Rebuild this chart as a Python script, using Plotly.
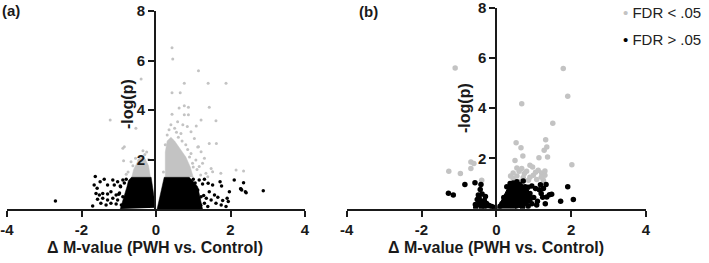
import plotly.graph_objects as go

# ---------------- data ----------------
# Panel (a): significant (FDR < .05) scattered points
a_sig_x = [0.43, 0.45, 1.14, 0.76, 1.40, 1.88, -0.40, 0.43, 0.65, 0.76, 0.87, 0.62, 1.43,
           0.43, 0.76, 0.87, -1.23, 1.61, -0.54, 1.43, -0.85, 1.14,
           1.21, 0.58, 0.72, 0.50, 0.84, 1.08, 0.30, 0.67, 0.94, 1.03, 1.12, 1.62, 1.21,
           1.30, 1.25, 1.16, 1.52, 1.74, 2.15, 2.35, 1.39, 0.94, 1.07, 1.48, 1.34, 1.20,
           -0.89, -0.40, -0.46, -0.67, -0.87, -0.75, -0.80,
           0.35, 0.55, 0.80, 0.90, 1.00, 0.85, 0.25, 0.40, 0.60, 0.20, 0.70, 0.98, 1.10,
           -0.25, -0.35, -0.55, -0.62, -0.20, -0.30]
a_sig_y = [6.52, 6.06, 5.59, 5.08, 5.08, 5.08, 5.25, 4.70, 4.70, 4.17, 4.11, 4.08, 4.11,
           3.83, 3.81, 3.81, 3.60, 3.57, 3.26, 2.65, 2.52, 2.52,
           3.60, 3.53, 3.40, 3.26, 3.33, 3.35, 2.99, 3.05, 3.12, 2.85, 2.51, 2.65, 2.31,
           2.05, 1.85, 1.72, 1.51, 1.44, 1.58, 1.54, 1.30, 2.24, 1.98, 1.64, 1.44, 1.37,
           2.45, 2.11, 1.97, 1.91, 1.95, 1.50, 1.40,
           3.20, 3.10, 2.60, 2.10, 1.70, 2.40, 2.60, 3.40, 2.90, 1.50, 2.75, 1.85, 1.60,
           2.30, 2.35, 2.05, 1.75, 2.00, 2.20]

# Panel (a): non-significant (FDR > .05) scattered points
a_ns_x = [-2.70, -1.63, -1.70, -1.66, -1.58, -1.50, -1.39, -1.30, -1.16, -1.12, -1.03, -0.96,
          -0.89, -1.61, -1.52, -1.43, -1.30, -1.21, -1.07, -0.98, -1.57, -1.43, -1.30,
          -1.16, -1.03, -0.89, -1.48, -1.34, -1.21, -1.07, -0.93, -0.81,
          1.16, 1.30, 1.40, 1.52, 1.72, 1.76, 2.10, 2.35, 1.97, 2.28, 2.30, 2.42, 2.88,
          1.43, 1.57, 1.66, 1.79, 1.91, 1.94, 1.48, 1.61, 1.75, 1.88, 1.30, 1.39, 1.21,
          1.35, 1.12, 1.25, 2.27, 2.40,
          -1.00, -0.95, -0.85, -0.80, 1.00, 1.05, 1.10, 1.15, 1.20, 1.28]
a_ns_y = [0.32, 1.31, 0.12, 0.97, 0.84, 1.10, 1.20, 0.97, 1.17, 0.97, 1.10, 0.93,
          1.17, 0.63, 0.57, 0.63, 0.61, 0.70, 0.57, 0.65, 0.39, 0.43, 0.36,
          0.43, 0.36, 0.50, 0.23, 0.16, 0.23, 0.20, 0.16, 0.30,
          1.17, 1.20, 1.04, 0.97, 1.10, 0.93, 1.17, 1.06, 0.70, 0.81, 0.77, 0.66, 0.74,
          0.70, 0.57, 0.47, 0.34, 0.43, 0.30, 0.36, 0.23, 0.16, 0.10, 0.23, 0.10, 0.50,
          0.43, 0.77, 1.01, 0.82, 0.70,
          0.60, 0.90, 1.05, 1.20, 1.20, 1.05, 0.70, 0.40, 0.15, 0.55]

# Panel (a): outlines of the densely packed clouds (None separates the two sides)
a_sig_cloud_x = [0.25, 0.25, 0.30, 0.40, 0.50, 0.65, 0.80, 0.92, 1.00, None,
                 -0.15, -0.20, -0.30, -0.42, -0.50, -0.60, -0.65]
a_sig_cloud_y = [1.28, 2.30, 2.75, 2.90, 2.75, 2.45, 2.10, 1.70, 1.28, None,
                 1.28, 1.75, 2.05, 2.15, 1.90, 1.60, 1.28]
a_ns_cloud_x = [0.03, 0.22, 0.89, 0.98, 1.12, 1.21, 1.25, None,
                -0.01, -0.13, -0.66, -0.74, -0.78, -0.90, -0.96]
a_ns_cloud_y = [0.00, 1.28, 1.28, 1.15, 0.90, 0.30, 0.00, None,
                0.05, 1.28, 1.28, 1.15, 0.90, 0.36, 0.00]

# Panel (b): significant points
b_sig_x = [-1.10, 1.79, 1.91, 0.68, 1.51, 1.32, 1.35, 1.28, 0.53, 0.66, 0.71, 1.14, 1.37,
           2.02, -1.27, -0.96, -0.68, -0.60, -0.68, -0.39,
           0.50, 0.55, 0.61, 0.45, 0.90, 0.97, 0.81, 1.12, 1.21, 1.30, 0.99, 0.45, 0.72,
           1.08, 1.26, 0.86, 0.62, 0.38, 0.75, 1.05, 1.20, 0.55, 0.90, 1.30, 0.68]
b_sig_y = [5.59, 5.57, 4.47, 4.17, 3.40, 2.74, 2.45, 2.32, 2.62, 2.42, 2.10, 2.03, 2.06,
           1.75, 1.49, 1.40, 1.86, 1.80, 1.60, 1.13,
           1.92, 1.62, 1.49, 1.42, 1.73, 1.66, 1.49, 1.53, 1.42, 1.33, 1.33, 1.20, 1.24,
           1.16, 1.13, 1.13, 1.08, 1.30, 1.40, 1.45, 1.25, 1.30, 1.25, 1.50, 1.60]

# Panel (b): non-significant points
b_ns_x = [-0.84, -0.57, -0.41, -1.28, -1.15, -0.43, -0.48, -0.51, -0.44, -0.35, -0.56,
          -0.46, -0.32, -0.26, -0.19, -0.12, -0.05, -0.29, -0.38, -0.40, -0.55, -0.30,
          1.91, 1.48, 1.72, 2.06, 1.33, 1.26, 1.24, 1.31, 1.08, 1.35, 1.42,
          0.28, 0.37, 0.55, 0.72, 0.77, 0.85, 0.95, 1.05, 1.15, 1.20, 0.90, 1.00, 1.10,
          0.95, 0.85, 0.70, 0.15, 0.20, 0.10, 0.60, 0.45, 1.18, 0.90]
b_ns_y = [0.96, 1.03, 0.96, 0.61, 0.54, 0.76, 0.54, 0.37, 0.28, 0.21, 0.17,
          0.45, 0.33, 0.21, 0.13, 0.09, 0.05, 0.49, 0.58, 0.05, 0.05, 0.10,
          0.87, 0.57, 0.30, 0.37, 0.96, 0.80, 0.46, 0.20, 0.15, 0.47, 0.55,
          0.87, 1.00, 1.07, 1.10, 0.87, 0.85, 0.90, 0.80, 0.75, 0.60, 0.60, 0.45, 0.30,
          0.20, 0.10, 0.05, 0.20, 0.45, 0.10, 0.95, 1.02, 0.95, 0.35]

b_ns_cloud_x = [0.03, 0.15, 0.25, 0.35, 0.50, 0.65, 0.75, 0.85, 0.95, 0.90, 0.75, 0.50, None,
                -0.02, -0.15, -0.30, -0.42, -0.52, -0.50, -0.35]
b_ns_cloud_y = [0.00, 0.35, 0.70, 0.95, 1.02, 1.05, 0.90, 0.75, 0.50, 0.25, 0.10, 0.00, None,
                0.00, 0.15, 0.30, 0.42, 0.30, 0.10, 0.02]

x_ticks = [-4, -2, 0, 2, 4]
y_ticks = [2, 4, 6, 8]
legend_labels = ["FDR &lt; .05", "FDR &gt; .05"]

# ---------------- styling ----------------
GRAY = "#c3c3c3"
BLACK = "#000000"
FONT = "Liberation Sans, Arial, sans-serif"
W, H = 709, 263


def px(x):
    return x / W


def py(y):
    return 1 - y / H


fig = go.Figure()

# panel (a)
fig.add_trace(go.Scatter(x=a_sig_cloud_x, y=a_sig_cloud_y, mode="lines", fill="toself",
                         fillcolor=GRAY, line=dict(width=0.5, color=GRAY),
                         xaxis="x", yaxis="y", hoverinfo="skip", showlegend=False))
fig.add_trace(go.Scatter(x=a_sig_x, y=a_sig_y, mode="markers",
                         marker=dict(size=3, color=GRAY), xaxis="x", yaxis="y",
                         showlegend=False))
fig.add_trace(go.Scatter(x=a_ns_cloud_x, y=a_ns_cloud_y, mode="lines", fill="toself",
                         fillcolor=BLACK, line=dict(width=0.5, color=BLACK),
                         xaxis="x", yaxis="y", hoverinfo="skip", showlegend=False))
fig.add_trace(go.Scatter(x=a_ns_x, y=a_ns_y, mode="markers",
                         marker=dict(size=3.5, color=BLACK), xaxis="x", yaxis="y",
                         showlegend=False))

# panel (b)
fig.add_trace(go.Scatter(x=b_sig_x, y=b_sig_y, mode="markers",
                         marker=dict(size=5.5, color=GRAY), xaxis="x2", yaxis="y2",
                         showlegend=False))
fig.add_trace(go.Scatter(x=b_ns_cloud_x, y=b_ns_cloud_y, mode="lines", fill="toself",
                         fillcolor=BLACK, line=dict(width=1, color=BLACK),
                         xaxis="x2", yaxis="y2", hoverinfo="skip", showlegend=False))
fig.add_trace(go.Scatter(x=b_ns_x, y=b_ns_y, mode="markers",
                         marker=dict(size=5.5, color=BLACK), xaxis="x2", yaxis="y2",
                         showlegend=False))

tickfont = dict(family=FONT, size=15, color="#1a1a1a")
axis_common = dict(showgrid=False, zeroline=False, showline=True, linecolor="#1a1a1a",
                   linewidth=2, ticks="outside", ticklen=6, tickwidth=2,
                   tickcolor="#1a1a1a", tickfont=tickfont, fixedrange=True,
                   automargin=False, ticklabeloverflow="allow")
x_ticktext = ["<b>%d</b>" % v for v in x_ticks]
y_ticktext = ["<b>%d</b>" % v for v in y_ticks]

# panel geometry in pixels of the 709x263 canvas
fig.update_layout(
    xaxis=dict(domain=[px(7), px(305)], range=[-4, 4], tickvals=x_ticks,
               ticktext=x_ticktext, anchor="y", **axis_common),
    yaxis=dict(domain=[py(209), py(11)], range=[0, 8], tickvals=y_ticks,
               ticktext=y_ticktext, anchor="free", position=px(155), **axis_common),
    xaxis2=dict(domain=[px(346.7), px(645.9)], range=[-4, 4], tickvals=x_ticks,
                ticktext=x_ticktext, anchor="y2", **axis_common),
    yaxis2=dict(domain=[py(208.7), py(7.5)], range=[0, 8], tickvals=y_ticks,
                ticktext=y_ticktext, anchor="free", position=px(496.3), **axis_common),
)

annotations = []
title_font = dict(family=FONT, size=16, color="#1a1a1a")
for cx in (155, 496):
    annotations.append(dict(text="<b>Δ M-value (PWH vs. Control)</b>", x=px(cx), y=py(247),
                            xref="paper", yref="paper", showarrow=False,
                            xanchor="center", yanchor="middle", font=title_font))
for cx, cy in ((127, 104), (465, 108)):
    annotations.append(dict(text="<b>-log(p)</b>", x=px(cx), y=py(cy), textangle=-90,
                            xref="paper", yref="paper", showarrow=False,
                            xanchor="center", yanchor="middle", font=title_font))
for lab, lx, ly in (("(a)", 0, 10.5), ("(b)", 357, 11)):
    annotations.append(dict(text="<b>" + lab + "</b>", x=px(lx), y=py(ly),
                            xref="paper", yref="paper", showarrow=False,
                            xanchor="left", yanchor="middle",
                            font=dict(family=FONT, size=15, color="#1a1a1a")))
for lab, col, ly in ((legend_labels[0], GRAY, 12.5), (legend_labels[1], BLACK, 40)):
    annotations.append(dict(text='<span style="color:%s">•</span> %s' % (col, lab),
                            x=px(621), y=py(ly), xref="paper", yref="paper",
                            showarrow=False, xanchor="left", yanchor="middle",
                            font=dict(family=FONT, size=15, color="#222222")))

fig.update_layout(
    width=W, height=H, margin=dict(l=0, r=0, t=0, b=0),
    paper_bgcolor="white", plot_bgcolor="white", showlegend=False,
    annotations=annotations,
)

fig.write_html("out.html", config={"displayModeBar": False},
               post_script="document.body.style.margin='0';document.body.style.padding='0';")
